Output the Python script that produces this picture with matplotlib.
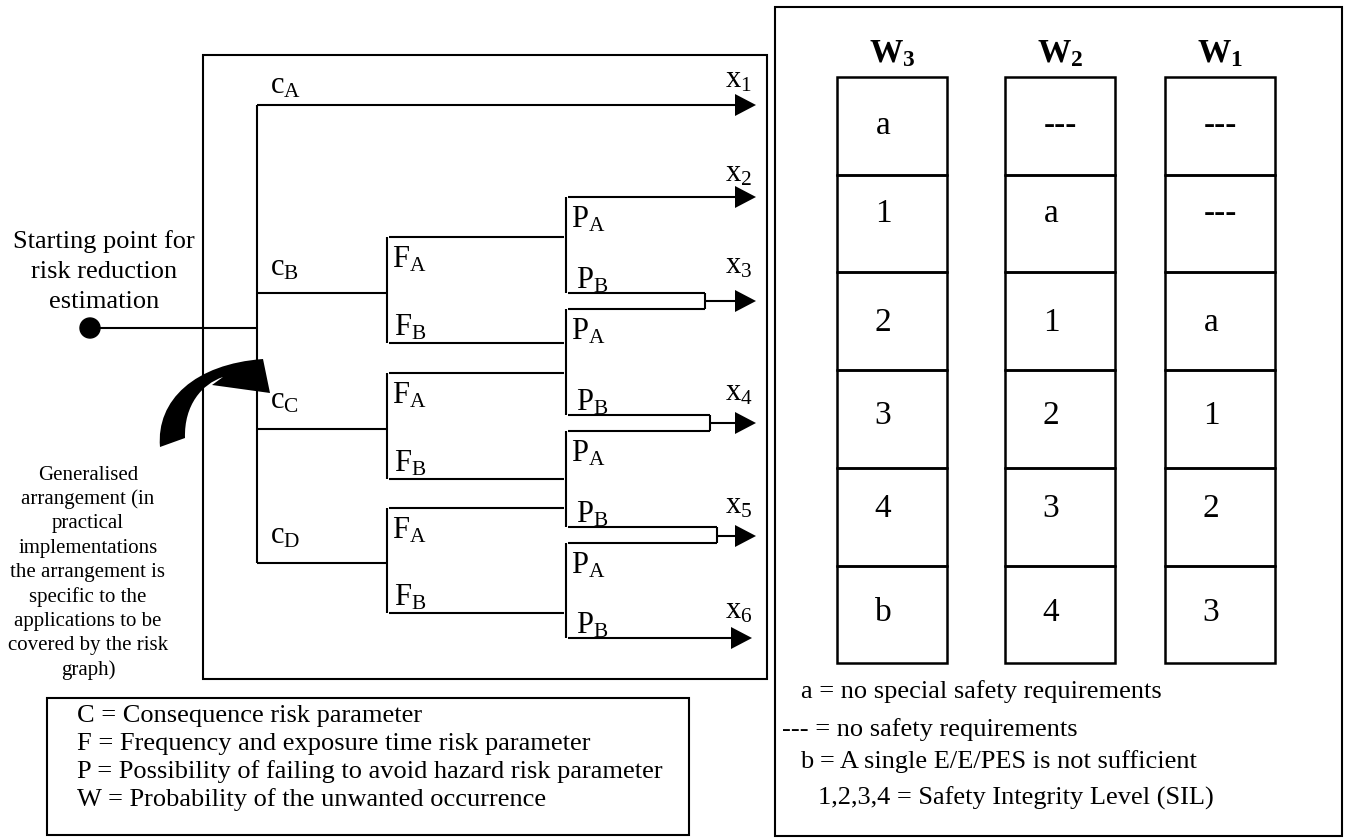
import matplotlib.pyplot as plt
from matplotlib.patches import Rectangle, Polygon, Circle, PathPatch
from matplotlib.path import Path

plt.rcParams['font.family'] = ['Liberation Serif', 'DejaVu Serif']
plt.rcParams['mathtext.fontset'] = 'custom'
plt.rcParams['mathtext.rm'] = 'Liberation Serif'
plt.rcParams['mathtext.it'] = 'Liberation Serif:italic'
plt.rcParams['mathtext.bf'] = 'Liberation Serif:bold'

# risk graph branches (c = consequence, F = frequency, P = possibility)
c_names = ['A', 'B', 'C', 'D']
c_y = [105, 293, 429, 563]
c_label_y = [93, 275, 408, 543]
f_pairs = [(237, 343), (373, 479), (508, 613)]        # F_A / F_B lines for c_B, c_C, c_D
p_pairs = [(197, 293), (309, 415), (431, 527), (543, 638)]   # P_A / P_B lines
x_names = ['1', '2', '3', '4', '5', '6']
x_arrow_y = [105, 197, 301, 423, 536, 638]
x_label_y = [87, 182, 273, 400, 513, 618]
merge_end = [705, 710, 717]

# SIL table
w_heads = ['3', '2', '1']
w3 = ['a', '1', '2', '3', '4', 'b']
w2 = ['---', 'a', '1', '2', '3', '4']
w1 = ['---', '---', 'a', '1', '2', '3']
w_cols = [w3, w2, w1]

start_text = ['Starting point for', 'risk reduction', 'estimation']
note_text = ['Generalised', 'arrangement (in', 'practical', 'implementations',
             'the arrangement is', 'specific to the', 'applications to be',
             'covered by the risk', 'graph)']
legend_left = ['C = Consequence risk parameter',
               'F = Frequency and exposure time risk parameter',
               'P = Possibility of failing to avoid hazard risk parameter',
               'W = Probability of the unwanted occurrence']
legend_right = ['a = no special safety requirements',
                '--- = no safety requirements',
                'b = A single E/E/PES is not sufficient',
                '1,2,3,4 = Safety Integrity Level (SIL)']

# layout
TRUNK_X, F_X, P_X, TIP = 257, 387, 566, 756
LW = 1.5

fig = plt.figure(figsize=(13.48, 8.38), dpi=100)
ax = fig.add_axes([0, 0, 1, 1])
ax.set_xlim(0, 1348)
ax.set_ylim(838, 0)
ax.axis('off')


def hline(x0, x1, y):
    ax.plot([x0, x1], [y, y], color='k', lw=LW, solid_capstyle='butt')


def vline(x, y0, y1):
    ax.plot([x, x], [y0, y1], color='k', lw=LW, solid_capstyle='butt')


def arrow(x0, y, tip=TIP):
    hline(x0, tip - 18, y)
    ax.add_patch(Polygon([(tip - 21, y - 11), (tip, y), (tip - 21, y + 11)],
                         closed=True, color='k', lw=0))


def sub(base, s):
    return r'$\mathrm{%s}_\mathrm{%s}$' % (base, s)


# boxes
ax.add_patch(Rectangle((203, 55), 564, 624, fill=False, lw=LW))
ax.add_patch(Rectangle((775, 7), 567, 829, fill=False, lw=LW))
ax.add_patch(Rectangle((47, 698), 642, 137, fill=False, lw=LW))

# starting point
ax.add_patch(Circle((90, 328), 10, color='k'))
hline(90, TRUNK_X, 328)
for i, t in enumerate(start_text):
    ax.text(104, 242 + i * 30, t, fontsize=19, ha='center', va='center')

# trunk and c branches
vline(TRUNK_X, c_y[0], c_y[-1])
arrow(TRUNK_X, c_y[0])
for y in c_y[1:]:
    hline(TRUNK_X, F_X, y)
for name, ly in zip(c_names, c_label_y):
    ax.text(270, ly, sub('c', name), fontsize=22, va='baseline')

# F branches
for fa, fb in f_pairs:
    vline(F_X, fa, fb)
    hline(F_X + 2, P_X - 2, fa)
    hline(F_X + 2, P_X - 2, fb)
    ax.text(392, fa + 30, sub('F', 'A'), fontsize=22, va='baseline')
    ax.text(394, fb - 8, sub('F', 'B'), fontsize=22, va='baseline')

# P branches
for pa, pb in p_pairs:
    vline(P_X, pa, pb)
    ax.text(571, pa + 30, sub('P', 'A'), fontsize=22, va='baseline')
    ax.text(576, pb - 5, sub('P', 'B'), fontsize=22, va='baseline')
arrow(P_X + 2, p_pairs[0][0])
arrow(P_X + 2, p_pairs[-1][1], TIP - 4)
for k, xe in enumerate(merge_end):
    top, bot = p_pairs[k][1], p_pairs[k + 1][0]
    hline(P_X + 2, xe, top)
    hline(P_X + 2, xe, bot)
    vline(xe, top, bot)
    arrow(xe, x_arrow_y[k + 2])

for name, ly in zip(x_names, x_label_y):
    ax.text(725, ly, sub('x', name), fontsize=22, va='baseline')

# curved pointer to c_C
verts = [(160, 447), (156, 400), (195, 364), (263, 359),
         (270, 393), (212, 385), (223, 377),
         (202, 384), (184, 405), (185, 438), (160, 447)]
codes = [Path.MOVETO, Path.CURVE4, Path.CURVE4, Path.CURVE4,
         Path.LINETO, Path.LINETO, Path.LINETO,
         Path.CURVE4, Path.CURVE4, Path.CURVE4, Path.CLOSEPOLY]
ax.add_patch(PathPatch(Path(verts, codes), color='k', lw=0))

for i, t in enumerate(note_text):
    ax.text(88, 475 + i * 24.4, t, fontsize=15, ha='center', va='center')

# SIL table
col_left = [837, 1005, 1165]
COL_W, TOP, ROW_H = 110, 77, 97.7
text_y = [126, 214, 323, 416, 509, 613]
for xl, head, vals in zip(col_left, w_heads, w_cols):
    ax.text(xl + COL_W / 2, 54, r'$\mathbf{W}_\mathbf{%s}$' % head, fontsize=24,
            ha='center', va='center')
    for r, v in enumerate(vals):
        ax.add_patch(Rectangle((xl, TOP + r * ROW_H), COL_W, ROW_H, fill=False, lw=1.8))
        dx = 0 if v == '---' else -9
        ax.text(xl + COL_W / 2 + dx, text_y[r], v, fontsize=24, ha='center', va='center')

# legends
for i, t in enumerate(legend_left):
    ax.text(77, 716 + i * 28, t, fontsize=19, va='center')
for t, x, y in zip(legend_right, [801, 782, 800, 818], [692, 730, 762, 798]):
    ax.text(x, y, t, fontsize=19, va='center')

fig.savefig('out.png', dpi=100)
